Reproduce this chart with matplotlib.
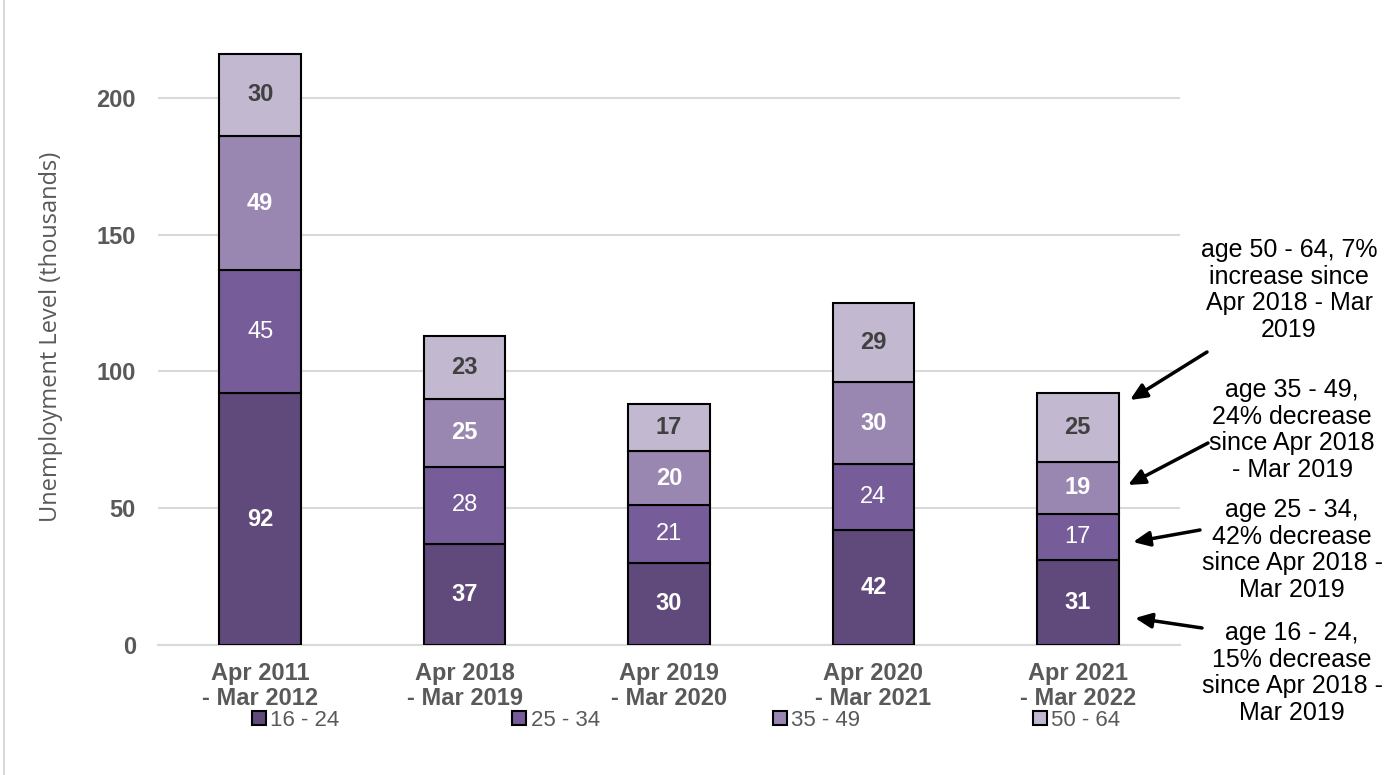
import numpy as np
import matplotlib
matplotlib.use("Agg")
import matplotlib.pyplot as plt
from matplotlib.lines import Line2D

categories = ["Apr 2011\n- Mar 2012", "Apr 2018\n- Mar 2019", "Apr 2019\n- Mar 2020",
              "Apr 2020\n- Mar 2021", "Apr 2021\n- Mar 2022"]
age_groups = ["16 - 24", "25 - 34", "35 - 49", "50 - 64"]
age_16_24 = [92, 37, 30, 42, 31]
age_25_34 = [45, 28, 21, 24, 17]
age_35_49 = [49, 25, 20, 30, 19]
age_50_64 = [30, 23, 17, 29, 25]

notes = [
    "age 50 - 64, 7%\nincrease since\nApr 2018 - Mar\n2019",
    "age 35 - 49,\n24% decrease\nsince Apr 2018\n- Mar 2019",
    "age 25 - 34,\n42% decrease\nsince Apr 2018 -\nMar 2019",
    "age 16 - 24,\n15% decrease\nsince Apr 2018 -\nMar 2019",
]

colors = ["#604a7b", "#765c98", "#9a87b1", "#c2b8d0"]
label_colors = ["white", "white", "white", "#404040"]
label_weights = ["bold", "normal", "bold", "bold"]

plt.rcParams['font.family'] = ['Liberation Sans', 'DejaVu Sans']
W, H = 1399, 775
fig = plt.figure(figsize=(W / 100, H / 100), dpi=100)
ax = fig.add_axes([158 / W, (H - 645) / H, (1180 - 158) / W, (645 - 43) / H])

series = [age_16_24, age_25_34, age_35_49, age_50_64]
x = np.arange(len(categories))
bottom = np.zeros(len(categories))
for vals, col, lc, lw in zip(series, colors, label_colors, label_weights):
    vals = np.array(vals, dtype=float)
    ax.bar(x, vals, 0.4, bottom=bottom, color=col, edgecolor="black", linewidth=1.5, zorder=3)
    for xi, b, v in zip(x, bottom, vals):
        ax.text(xi, b + v / 2, f"{int(v)}", ha="center", va="center", color=lc,
                fontsize=17, fontweight=lw, zorder=4)
    bottom += vals

ax.set_xlim(-0.5, 4.5)
ax.set_ylim(0, 220)
ax.set_yticks([0, 50, 100, 150, 200])
ax.yaxis.grid(True, color="#d9d9d9", linewidth=1.5, zorder=0)
ax.set_axisbelow(True)
for s in ["top", "right", "left"]:
    ax.spines[s].set_visible(False)
ax.spines["bottom"].set_color("#d9d9d9")
ax.spines["bottom"].set_linewidth(1.5)
ax.tick_params(length=0, pad=16, axis="y")
ax.tick_params(length=0, pad=12, axis="x")
ax.set_xticks(x)
ax.set_xticklabels(categories, fontsize=17, fontweight="bold", color="#595959", linespacing=1.15)
for t in ax.get_yticklabels():
    t.set_fontsize(17)
    t.set_fontweight("bold")
    t.set_color("#595959")

fig.text(51 / W, 1 - 337 / H, "Unemployment Level (thousands)", rotation=90,
         ha="center", va="center", fontsize=17, color="#595959", family=["Open Sans", "DejaVu Sans"])

# legend
handles = [Line2D([], [], marker="s", linestyle="none", markersize=10, markerfacecolor=c,
                  markeredgecolor="black", markeredgewidth=1.5) for c in colors]
leg = fig.legend(handles, age_groups, loc="center", bbox_to_anchor=(684 / W, 1 - 720 / H),
                 ncol=4, frameon=False, columnspacing=7.6, handletextpad=0.0, handlelength=1.0,
                 prop={"size": 16})
for t in leg.get_texts():
    t.set_color("#595959")

# annotations
note_centres = [(1289, 290), (1292, 430), (1292, 550), (1292, 673)]
arrows = [((1207, 352), (1130, 400)), ((1208, 443), (1128, 485)),
          ((1200, 530), (1133, 542)), ((1202, 628), (1135, 618))]
for txt, (cx, cy), (p0, p1) in zip(notes, note_centres, arrows):
    fig.text(cx / W, 1 - cy / H, txt, ha="center", va="center", fontsize=18, color="black",
             linespacing=1.15)
    fig.add_artist(plt.Annotation("", xy=(p1[0] / W, 1 - p1[1] / H), xycoords="figure fraction",
                                  xytext=(p0[0] / W, 1 - p0[1] / H), textcoords="figure fraction",
                                  arrowprops=dict(arrowstyle="-|>,head_length=1.0,head_width=0.45",
                                                  color="black", lw=2.5, shrinkA=0, shrinkB=0)))

fig.add_artist(Line2D([4 / W, 4 / W], [0, 1], color="#d9d9d9", lw=1.5))

fig.savefig("out.png", dpi=100)
